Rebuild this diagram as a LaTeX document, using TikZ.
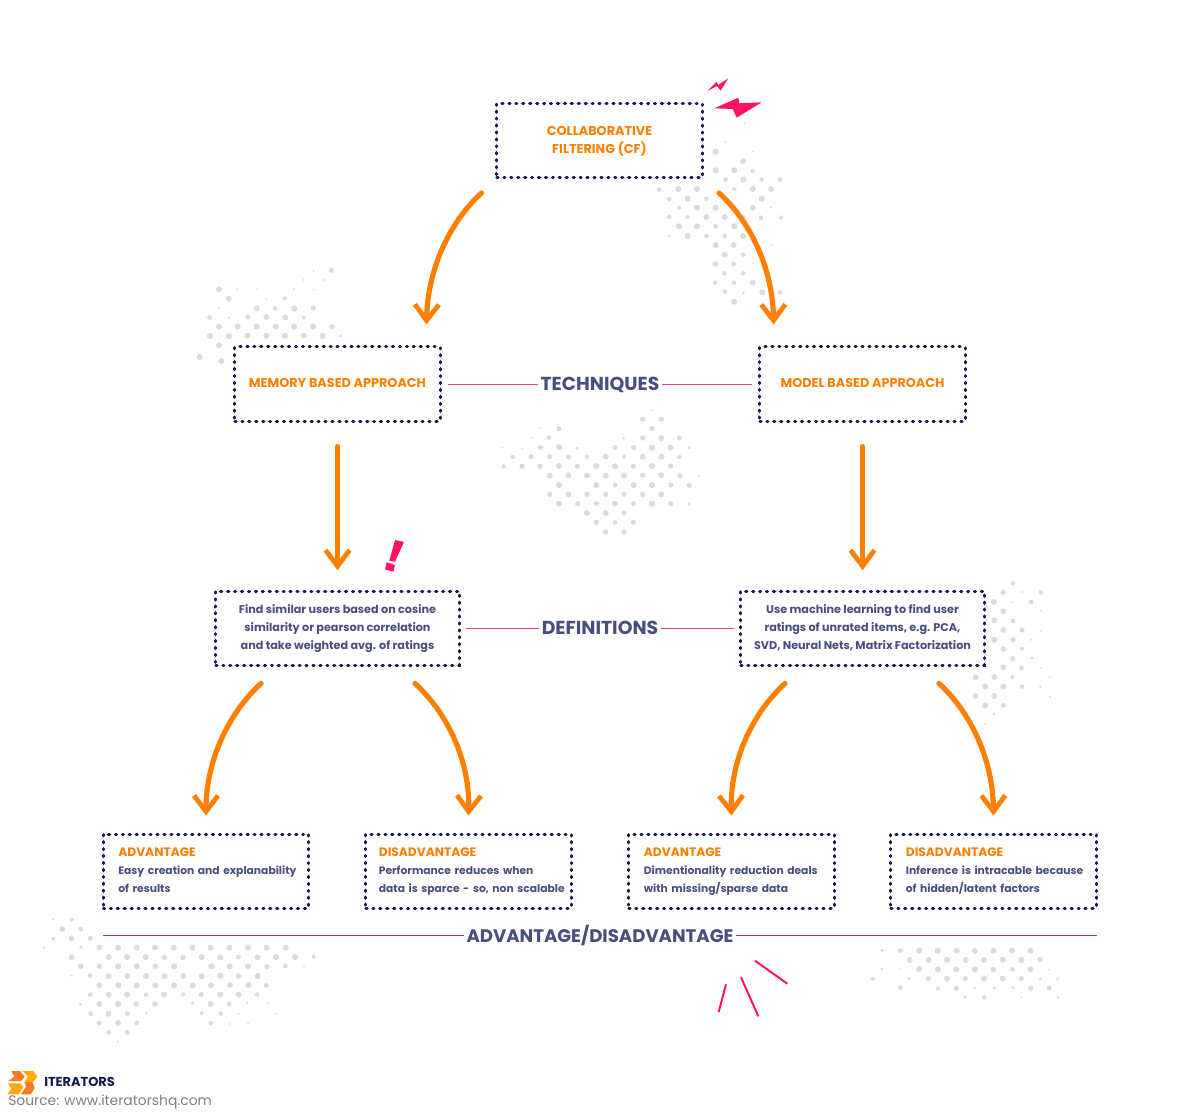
\documentclass[tikz,border=0pt]{standalone}
\usepackage{fontspec}
\setmainfont{Poppins}
\usetikzlibrary{arrows.meta}
\definecolor{navy}{HTML}{16194F}
\definecolor{orangec}{HTML}{FF7F00}
\definecolor{inkc}{HTML}{4A4E7E}
\definecolor{pinkc}{HTML}{FF1464}
\definecolor{rulec}{HTML}{E0457F}
\definecolor{rulee}{HTML}{B8305F}
\definecolor{dotc}{HTML}{DADAE4}
\definecolor{logoa}{HTML}{F47A24}
\definecolor{logob}{HTML}{FFA90A}
\tikzset{
  x=0.75pt,y=-0.75pt,
  dotbox/.style={draw=navy,line width=2.25pt,line cap=round,dash pattern=on 0.9pt off 4.3pt,inner sep=0pt,minimum width=154pt,minimum height=55.5pt,font=\fontsize{8.4}{13.5}\selectfont\bfseries,text=inkc,align=center},
  defbox/.style={dotbox,minimum width=182.5pt},
  titlebox/.style={dotbox,text=orangec,font=\fontsize{9.6}{13.5}\selectfont\bfseries},
  notebox/.style={dotbox,align=left,inner xsep=11.25pt,text width=131.5pt,font=\fontsize{8.05}{13.5}\selectfont\bfseries},
  sidelabel/.style={font=\fontsize{14.1}{15}\selectfont\bfseries,text=inkc,inner sep=1.5pt,text height=11pt,text depth=1.2pt},
  flow/.style={draw=orangec,line width=3.9pt,line cap=round,line join=round,-{Straight Barb[length=12pt,width=18pt,line width=3.6pt]}},
  rulel/.style={draw=rulec,line width=0.6pt},
  rulem/.style={draw=rulee,line width=0.6pt},
  spark/.style={draw=pinkc,line width=1.5pt},
}
\newcommand{\dotfield}[4]{\foreach \x/\y/\r in {#4} {\fill[dotc] (\x/#3+#1,\y/#3+#2) circle[radius=\r];}}
\newcommand{\hd}[1]{{\fontsize{9.2}{13.5}\selectfont\color{orangec}#1}}
\begin{document}
\begin{tikzpicture}
\useasboundingbox[fill=white] (0,0) rectangle (1200,1116);
% dot fields
\dotfield{480}{60}{3}{793/190/1,737/246/1,707/275/3,818/275/1,790/303/3,707/331/3,763/331/3,818/333/2.2,737/359/2.2,790/359/3,845/359/2.2,900/359/2.2,537/389/2.2,595/387/3,651/387/3,763/387/2.2,818/387/3,873/387/3,568/417/2.2,623/416/3,679/416/2.2,845/416/3,597/443/2.2,651/443/3,707/443/3,818/443/3,873/443/1,568/471/2.2,623/471/2.2,679/471/3,734/471/3,790/471/2.2,843/473/2.2,903/473/2.2,597/499/3,651/499/3,707/499/2.2,763/499/3,567/528/1.5,623/528/3,679/528/2.2,734/528/2.2,790/528/3,707/555/3,761/555/3,873/555/1,734/584/3,790/584/2.2,707/612/3,761/612/2.2,818/610/1,733/640/2.2,790/640/2.2,705/668/2.2,762/668/2.2,818/668/3,735/695/2.2,790/698/1.5,847/697/3,900/697/2.2,762/725/3}
\dotfield{190}{260}{3}{424/31/2.5,371/33/1,341/60/1,399/60/1,87/88/3,142/88/1,202/88/1,312/88/1,371/89/1,116/116/3,229/118/1,284/115/2,86/145/1,200/145/3,255/145/2.2,313/146/3,370/144/2.5,59/172/2.5,117/173/1,173/171/2.5,229/171/3,286/172/3,341/173/2,87/200/3,143/200/3,200/200/3,257/200/3,312/200/3,369/200/3,426/200/2.5,60/228/3,117/229/3,172/227/3,229/227/3,285/227/3,341/227/3,398/228/3,452/228/1.5,87/256/3,29/291/3,94/303/3}
\dotfield{490}{400}{3}{486/30/1,458/58/2.6,514/58/2.6,207/86/2.6,151/83/1,486/86/2.6,124/113/1,177/113/2.2,401/115/1.3,458/114/2.6,514/114/3,568/114/2.6,37/143/1,97/145/1,151/143/2.6,208/142/3,262/145/1.8,375/143/2.6,431/143/2.6,486/143/3,542/143/3,598/143/1.8,68/171/2.2,123/170/2.6,179/170/2.6,235/171/2.6,291/171/2,347/170/3,402/170/2.2,458/170/3,514/170/3,568/171/2.2,41/199/2.2,96/199/2.6,150/199/2.6,207/198/3,262/199/2.6,319/198/3,375/199/3,430/199/2.6,486/198/3,542/198/2.6,179/227/3,235/226/3,291/227/3,347/227/3,402/227/3,458/226/2.6,514/226/3,570/227/2.6,626/228/1,207/255/3,319/255/3,375/255/2.4,431/255/3,486/255/3,542/255/2.4,598/256/2.6,179/283/2.6,235/283/3,291/283/2.6,347/283/2.6,402/283/2.6,458/283/2.6,514/283/3,207/311/3,263/311/2.6,319/311/2.6,375/311/3,430/311/2.6,486/311/3,542/311/2.6,597/312/1.8,291/339/3,347/339/3,402/339/2.6,319/367/2.6,375/367/2.2,430/367/2.6,347/396/2.6,402/396/2.6}
\dotfield{960}{570}{3}{158/40/2.2,130/67/2.6,186/66/1,243/67/2.4,102/96/3,157/97/1,214/96/2.4,130/124/3,243/122/1,103/151/3,159/153/2.4,130/180/2.8,186/180/2.6,243/182/1.2,103/209/3,159/209/2.6,213/209/1.2,130/237/2.8,186/236/2,158/265/2.6,216/264/1.6,130/292/3,184/294/2.4,243/293/1,47/322/3,103/321/3,157/321/2,270/321/1,75/350/3,130/350/3,186/350/2.2,241/351/1.2,47/378/3,103/378/3,270/380/1,75/406/3,130/406/2.4,103/432/1.4,75/461/1}
\dotfield{30}{910}{3}{69/29/1,125/29/2.2,97/57/2.8,152/57/2.6,70/86/2,124/85/2.8,181/85/2.6,41/113/1.3,153/112/1.8,208/113/2.8,264/113/3,320/113/3,375/113/3,431/113/3,487/113/3,542/113/3,598/113/3,654/113/3,710/113/3,767/113/3,125/142/3,236/141/3,291/141/3,347/141/3,403/142/2.8,459/142/2.8,515/141/3,571/142/3,625/141/2.5,683/142/3,738/141/3,795/141/3,851/140/2,152/169/2.8,208/169/2.6,264/169/3,320/169/3,376/169/2.8,432/169/3,544/169/3,599/169/3,654/169/3,711/170/2.6,766/168/2.3,822/169/1,124/197/1,180/197/2.3,236/198/3,292/198/3,348/198/3,404/198/3,460/198/3,515/199/3,571/197/3,626/198/2.8,683/198/3,208/226/2.8,265/226/3,320/226/3,376/226/3,432/226/3,488/226/3,543/226/3,600/225/2.8,655/225/3,709/226/2.4,181/254/2.3,236/254/3,291/254/3,348/254/2.2,402/254/3,459/253/2,514/254/2.5,571/254/3,626/254/3,682/254/2.3,151/283/1.6,208/282/3,264/282/3,319/282/2.8,375/282/2.8,488/279/1.8,542/282/3,598/282/2.4,652/279/1.3,713/280/1,182/311/2.4,236/311/3,292/311/2.5,349/310/1.3,515/310/2,572/311/2.2,625/312/1,738/311/1,208/339/2.4,264/339/3,320/339/2.6,542/339/2.2,598/342/1,654/341/1,236/367/2.3,292/367/2.5,264/395/1}
\dotfield{700}{940}{3}{547/31/1.6,601/32/2.4,658/32/3,713/32/3,770/32/3,825/33/3,880/32/3,936/32/3,992/32/3,629/60/3,686/60/3,741/59/3,797/60/3,852/60/3,908/59/3,964/60/3,1020/59/2.8,545/87/1.7,601/88/1,658/87/3,714/88/3,769/88/3,825/88/3,880/88/2.8,938/88/2.2,992/88/3,1048/89/1,519/116/2,628/116/1.6,685/116/2.6,741/116/3,796/116/2.6,852/116/3,908/116/3,964/116/2.6,1021/117/1.5,1073/117/1.7,601/143/2.2,714/146/2.1,769/145/2.6,824/144/1.4,883/144/1.8,938/143/1.7,992/145/2.6,1048/144/2.4,795/171/1.7,853/172/2.3,964/172/1,1074/172/1.5}
% decorations
\fill[pinkc] (714.3,108.3) -- (738.3,97.7) -- (739.3,103.3) -- (761.7,102.3) -- (736.7,117.7) -- (732.7,109) -- cycle;
\fill[pinkc] (707.7,90.7) -- (716.7,81.7) -- (718,85) -- (728.3,78.3) -- (720.7,90.7) -- (717,86) -- cycle;
\fill[pinkc] (395,540) -- (404,542) -- (395,561.7) -- (389.3,560.7) -- cycle;
\fill[pinkc] (386.7,562.3) -- (395,565) -- (393.3,571.7) -- (385,569.3) -- cycle;
\draw[spark] (755,960.7) -- (787.3,983.7);
\draw[spark] (741,977.3) -- (758.3,1016.3);
\draw[spark] (726,984.3) -- (718.7,1012);
% nodes
\node[titlebox] (cf) at (599.5,140.5) {\strut COLLABORATIVE\\FILTERING (CF)\strut};
\node[titlebox] (mem) at (337.5,384) {\strut MEMORY BASED APPROACH};
\node[titlebox] (mod) at (862.5,384) {\strut MODEL BASED APPROACH};
\node[defbox] (dl) at (337.5,628) {\strut Find similar users based on cosine\\similarity or pearson correlation\\and take weighted avg. of ratings\strut};
\node[defbox] (dr) at (862.5,628) {\strut Use machine learning to find user\\ratings of unrated items, e.g. PCA,\\SVD, Neural Nets, Matrix Factorization\strut};
\node[notebox] (a1) at (206,871) {\strut\hd{ADVANTAGE}\\\mbox{Easy creation and explanability}\\of results\strut};
\node[notebox] (a2) at (468.5,871) {\strut\hspace*{-1.5pt}\hd{DISADVANTAGE}\\\hspace*{-1.5pt}Performance reduces when\\\hspace*{-1.5pt}\mbox{data is sparce - so, non scalable}\strut};
\node[notebox] (a3) at (731.5,871) {\strut\hd{ADVANTAGE}\\\mbox{Dimentionality reduction deals}\\with missing/sparse data\strut};
\node[notebox] (a4) at (993.5,871) {\strut\hd{DISADVANTAGE}\\\mbox{Inference is intracable because}\\of hidden/latent factors\strut};
\node[sidelabel] (tech) at (600,384) {TECHNIQUES};
\node[sidelabel] (defs) at (600,628) {DEFINITIONS};
\node[sidelabel,font=\fontsize{13.6}{15}\selectfont\bfseries] (adv) at (600,935.5) {ADVANTAGE/DISADVANTAGE};
\coordinate (ruleL) at (103,935.5);
\coordinate (ruleR) at (1097,935.5);
% rules
\draw[rulel,shorten <=4.5pt] (mem.east) -- (tech.west);
\draw[rulel,shorten >=4.5pt] (tech.east) -- (mod.west);
\draw[rulel,shorten <=3.75pt] (dl.east) -- (defs.west);
\draw[rulel,shorten >=3.75pt] (defs.east) -- (dr.west);
\draw[rulem] (ruleL) -- (ruleL -| adv.west);
\draw[rulem] (ruleR -| adv.east) -- (ruleR);
% arrows
\draw[flow] ([shift={(-118,14)}]cf.south) .. controls ([shift={(-151,44)}]cf.south) and ([shift={(-172,92)}]cf.south) .. ([shift={(89,-21)}]mem.north);
\draw[flow] ([shift={(119.5,14)}]cf.south) .. controls ([shift={(152.5,44)}]cf.south) and ([shift={(173.5,92)}]cf.south) .. ([shift={(-89,-21)}]mod.north);
\draw[flow] ([yshift=-18pt]mem.south) -- ([yshift=14.5pt]dl.north);
\draw[flow] ([yshift=-18pt]mod.south) -- ([yshift=14.5pt]dr.north);
\draw[flow] ([shift={(-76.5,17)}]dl.south) .. controls ([shift={(-109.5,47)}]dl.south) and ([shift={(-131.5,95)}]dl.south) .. ([shift={(0,-17)}]a1.north);
\draw[flow] ([shift={(77.5,17)}]dl.south) .. controls ([shift={(110.5,47)}]dl.south) and ([shift={(132.5,95)}]dl.south) .. ([shift={(0,-17)}]a2.north);
\draw[flow] ([shift={(-77.5,17)}]dr.south) .. controls ([shift={(-110.5,47)}]dr.south) and ([shift={(-132.5,95)}]dr.south) .. ([shift={(0,-17)}]a3.north);
\draw[flow] ([shift={(76.5,17)}]dr.south) .. controls ([shift={(109.5,47)}]dr.south) and ([shift={(130.5,95)}]dr.south) .. ([shift={(0,-17)}]a4.north);
% logo
\fill[logoa] (11.3,1071) -- (20,1071) -- (24.7,1076.7) -- (21,1081) -- (8,1081) -- (14.5,1076.7) -- cycle;
\fill[logob] (22.3,1071) -- (33.3,1071) -- (37.3,1076.7) -- (32.3,1082.7) -- (24,1082.7) -- (28,1076.7) -- cycle;
\fill[logob] (8,1083.3) -- (20,1083.3) -- (23.3,1086.7) -- (19,1094.3) -- (7.3,1094.3) -- (11.3,1088.7) -- cycle;
\fill[logoa] (24.7,1082) -- (32.3,1082) -- (34.7,1088) -- (30.7,1094.3) -- (20.7,1094.3) -- (26,1087) -- cycle;
\node[anchor=west,inner sep=0pt,font=\fontsize{9.7}{11}\selectfont\bfseries,text=navy] (brand) at (44,1082) {ITERATORS};
\node[anchor=west,inner sep=0pt,font=\fontsize{10.4}{12}\selectfont,text=gray] (src) at (8,1102) {Source: www.iteratorshq.com};
\end{tikzpicture}
\end{document}
